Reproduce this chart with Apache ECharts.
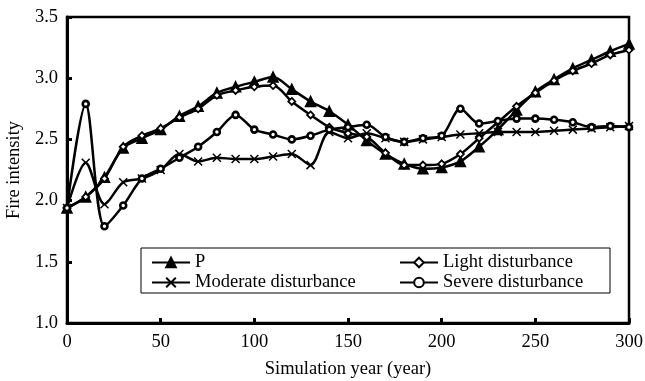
<!DOCTYPE html>
<html><head><meta charset="utf-8">
<script src="https://cdn.jsdelivr.net/npm/echarts@6/dist/echarts.min.js"></script>
<style>html,body{margin:0;padding:0;background:#fff}#c{width:645px;height:381px}</style>
</head><body><div id="c"></div>
<script>
const years = [0,10,20,30,40,50,60,70,80,90,100,110,120,130,140,150,160,170,180,190,200,210,220,230,240,250,260,270,280,290,300];
const pValues = [1.94,2.03,2.19,2.43,2.51,2.58,2.69,2.77,2.88,2.93,2.97,3.01,2.91,2.81,2.73,2.62,2.49,2.38,2.30,2.26,2.27,2.32,2.44,2.58,2.74,2.89,2.99,3.08,3.15,3.22,3.28];
const lightValues = [1.94,2.03,2.18,2.44,2.53,2.59,2.68,2.75,2.86,2.90,2.93,2.94,2.81,2.70,2.60,2.55,2.52,2.39,2.29,2.29,2.30,2.38,2.51,2.64,2.77,2.88,2.98,3.06,3.12,3.19,3.23];
const moderateValues = [1.94,2.31,1.97,2.15,2.18,2.25,2.38,2.32,2.35,2.34,2.34,2.36,2.38,2.29,2.56,2.51,2.55,2.51,2.48,2.50,2.52,2.54,2.55,2.56,2.56,2.56,2.57,2.58,2.59,2.60,2.61];
const severeValues = [1.94,2.79,1.79,1.96,2.18,2.26,2.35,2.44,2.56,2.70,2.58,2.54,2.50,2.53,2.58,2.60,2.62,2.52,2.48,2.51,2.53,2.75,2.63,2.65,2.67,2.67,2.66,2.64,2.60,2.61,2.60];
const seriesNames = ['P','Moderate disturbance','Light disturbance','Severe disturbance'];
const xTicks = {min:0,max:300,interval:50};
const yTicks = {min:1.0,max:3.5,interval:0.5};

const font = 'Liberation Serif';
const crossPath = 'path://M0,0L10,10M10,0L0,10';
function pts(vals){ return years.map((y,i)=>[y,vals[i]]); }
function mk(name, vals, symbol, size, fill, bw){
  return {name, type:'line', data:pts(vals), smooth:0.3, symbol, symbolSize:size,
    lineStyle:{color:'#000',width:2.5},
    itemStyle:{color:fill,borderColor:'#000',borderWidth:bw},
    emphasis:{disabled:true}, animation:false};
}
const chart = echarts.init(document.getElementById('c'));
chart.setOption({
  backgroundColor:'#fff',
  animation:false,
  grid:{left:67,right:16,top:17,bottom:58,show:true,borderColor:'#000',borderWidth:2.5,backgroundColor:'transparent',containLabel:false,outerBoundsMode:'none'},
  xAxis:{type:'value',min:xTicks.min,max:xTicks.max,interval:xTicks.interval,
    name:'Simulation year (year)',nameLocation:'middle',nameGap:37,
    nameTextStyle:{fontFamily:font,fontSize:18.5,color:'#000'},
    axisLine:{lineStyle:{color:'#000',width:3}},
    axisTick:{inside:true,length:5,lineStyle:{color:'#000',width:3}},
    axisLabel:{fontFamily:font,fontSize:18.5,color:'#000',margin:10},
    splitLine:{show:false}},
  yAxis:{type:'value',min:yTicks.min,max:yTicks.max,interval:yTicks.interval,
    name:'Fire intensity',nameLocation:'middle',nameGap:39,
    nameTextStyle:{fontFamily:font,fontSize:18.5,color:'#000'},
    axisLine:{lineStyle:{color:'#000',width:3}},
    axisTick:{inside:true,length:5,lineStyle:{color:'#000',width:3}},
    axisLabel:{fontFamily:font,fontSize:18.5,color:'#000',margin:9,formatter:v=>v.toFixed(1)},
    splitLine:{show:false}},
  legend:[
    {data:[seriesNames[0],seriesNames[1]],orient:'vertical',left:146,top:248,itemWidth:38,itemHeight:12,itemGap:1,
      textStyle:{fontFamily:font,fontSize:18.5,color:'#000'},inactiveColor:'#000'},
    {data:[seriesNames[2],seriesNames[3]],orient:'vertical',left:394,top:248,itemWidth:38,itemHeight:12,itemGap:1,
      textStyle:{fontFamily:font,fontSize:18.5,color:'#000'},inactiveColor:'#000'}
  ],
  graphic:[{type:'rect',shape:{x:141,y:248,width:469,height:45},style:{fill:'#fff',stroke:'#000',lineWidth:1},z:-1,silent:true}],
  series:[
    mk(seriesNames[0],pValues,'triangle',10,'#000',1.5),
    mk(seriesNames[1],moderateValues,crossPath,8,'#000',1.5),
    mk(seriesNames[2],lightValues,'diamond',7,'#fff',1.8),
    mk(seriesNames[3],severeValues,'circle',6,'#fff',2.6)
  ]
});
</script></body></html>
